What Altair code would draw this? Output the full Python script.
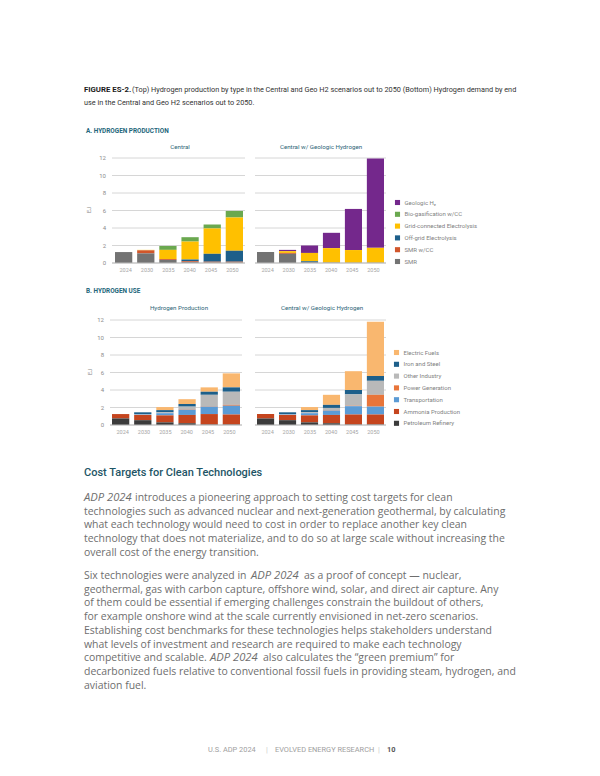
import altair as alt
import pandas as pd

# ---------------- data ----------------
years = ["2024", "2030", "2035", "2040", "2045", "2050"]

prod_types = ["Geologic H₂", "Bio-gasification w/CC", "Grid-connected Electrolysis",
              "Off-grid Electrolysis", "SMR w/CC", "SMR"]
prod_colors = ["#74288c", "#6aa84f", "#ffc000", "#1d5f8a", "#d1562b", "#737373"]

# Central scenario (EJ)
central_smr = [1.25, 1.10, 0.35, 0.10, 0.05, 0.05]
central_smr_cc = [0.00, 0.35, 0.10, 0.10, 0.10, 0.10]
central_offgrid = [0.00, 0.00, 0.00, 0.20, 0.90, 1.25]
central_grid = [0.00, 0.05, 1.05, 2.05, 2.90, 3.80]
central_bio = [0.00, 0.00, 0.45, 0.50, 0.45, 0.75]
central_geologic = [0.00, 0.00, 0.00, 0.00, 0.00, 0.00]

# Central w/ Geologic Hydrogen (EJ)
geo_smr = [1.25, 1.05, 0.10, 0.05, 0.03, 0.03]
geo_smr_cc = [0.00, 0.10, 0.00, 0.00, 0.00, 0.00]
geo_offgrid = [0.00, 0.00, 0.10, 0.00, 0.00, 0.00]
geo_grid = [0.00, 0.20, 0.95, 1.65, 1.45, 1.70]
geo_bio = [0.00, 0.00, 0.00, 0.00, 0.00, 0.00]
geo_geologic = [0.00, 0.15, 0.85, 1.75, 4.70, 10.20]

use_types = ["Electric Fuels", "Iron and Steel", "Other Industry", "Power Generation",
             "Transportation", "Ammonia Production", "Petroleum Refinery"]
use_colors = ["#f9b76f", "#1d5f8a", "#b9b9b9", "#e8753a", "#5b9bd5", "#c5451e", "#3b3b3b"]

# Hydrogen Production (central) use (EJ)
prodc_refinery = [0.75, 0.55, 0.30, 0.20, 0.05, 0.05]
prodc_ammonia = [0.50, 0.60, 0.80, 0.95, 1.20, 1.15]
prodc_transport = [0.00, 0.05, 0.25, 0.60, 0.85, 1.00]
prodc_power = [0.00, 0.00, 0.00, 0.05, 0.05, 0.10]
prodc_other = [0.00, 0.05, 0.10, 0.30, 1.30, 1.50]
prodc_iron = [0.00, 0.20, 0.25, 0.30, 0.35, 0.50]
prodc_efuels = [0.00, 0.00, 0.35, 0.55, 0.50, 1.60]

# Central w/ Geologic Hydrogen use (EJ)
geou_refinery = [0.75, 0.55, 0.30, 0.20, 0.05, 0.05]
geou_ammonia = [0.50, 0.60, 0.80, 0.95, 1.15, 1.15]
geou_transport = [0.00, 0.05, 0.25, 0.50, 0.95, 0.90]
geou_power = [0.00, 0.00, 0.00, 0.05, 0.05, 1.35]
geou_other = [0.00, 0.05, 0.10, 0.25, 1.30, 1.60]
geou_iron = [0.00, 0.20, 0.25, 0.35, 0.50, 0.55]
geou_efuels = [0.00, 0.00, 0.35, 1.15, 2.15, 6.20]

y_ticks = [0, 2, 4, 6, 8, 10, 12]

caption_bold = "FIGURE ES-2."
caption_1 = "(Top) Hydrogen production by type in the Central and Geo H2 scenarios out to 2050 (Bottom) Hydrogen demand by end"
caption_2 = "use in the Central and Geo H2 scenarios out to 2050."
section_a = "A. HYDROGEN PRODUCTION"
section_b = "B. HYDROGEN USE"
panel_titles = ["Central", "Central w/ Geologic Hydrogen", "Hydrogen Production", "Central w/ Geologic Hydrogen"]
unit_label = "EJ"
heading = "Cost Targets for Clean Technologies"
italic_seg = "ADP 2024"
body_lines = [
    ["", "introduces a pioneering approach to setting cost targets for clean"],
    ["technologies such as advanced nuclear and next-generation geothermal, by calculating"],
    ["what each technology would need to cost in order to replace another key clean"],
    ["technology that does not materialize, and to do so at large scale without increasing the"],
    ["overall cost of the energy transition."],
    ["Six technologies were analyzed in", "as a proof of concept — nuclear,"],
    ["geothermal, gas with carbon capture, offshore wind, solar, and direct air capture. Any"],
    ["of them could be essential if emerging challenges constrain the buildout of others,"],
    ["for example onshore wind at the scale currently envisioned in net-zero scenarios."],
    ["Establishing cost benchmarks for these technologies helps stakeholders understand"],
    ["what levels of investment and research are required to make each technology"],
    ["competitive and scalable.", "also calculates the “green premium” for"],
    ["decarbonized fuels relative to conventional fossil fuels in providing steam, hydrogen, and"],
    ["aviation fuel."],
]
footer_parts = ["U.S. ADP 2024", "|", "EVOLVED ENERGY RESEARCH", "|", "10"]

# ---------------- layout (page pixels) ----------------
M = 8
def P(v):
    return v - M

NARROW = "Roboto"
BODY = "Open Sans"
TEAL = "#23667a"


def long_table(series, types):
    rows = []
    n = len(types)
    for t, vals in zip(types, series):
        for yr, v in zip(years, vals):
            rows.append({"year": yr, "type": t, "value": v, "ord": n - types.index(t)})
    return pd.DataFrame(rows)


prod_central_df = long_table([central_geologic, central_bio, central_grid, central_offgrid,
                              central_smr_cc, central_smr], prod_types)
prod_geo_df = long_table([geo_geologic, geo_bio, geo_grid, geo_offgrid, geo_smr_cc, geo_smr], prod_types)
use_central_df = long_table([prodc_efuels, prodc_iron, prodc_other, prodc_power, prodc_transport,
                             prodc_ammonia, prodc_refinery], use_types)
use_geo_df = long_table([geou_efuels, geou_iron, geou_other, geou_power, geou_transport,
                         geou_ammonia, geou_refinery], use_types)


def panel(df, types, colors, bar_x, grid_x, y_rng, xlab_y, legend=None, ylab_x=None):
    xs = alt.Scale(domain=years, range=[P(bar_x[0]), P(bar_x[1])], paddingInner=0.22, paddingOuter=0)
    ys = alt.Scale(domain=[0, 12], range=[P(y_rng[0]), P(y_rng[1])], nice=False, zero=True)
    grid_df = pd.DataFrame({"v": y_ticks})
    layers = []
    layers.append(
        alt.Chart(grid_df).mark_rule(color="#d6d6d6", strokeWidth=1).encode(
            y=alt.Y("v:Q", scale=ys, axis=None),
            x=alt.value(P(grid_x[0])), x2=alt.value(P(grid_x[1])),
        )
    )
    col = alt.Color("type:N", scale=alt.Scale(domain=types, range=colors),
                    legend=legend if legend is not None else None)
    layers.append(
        alt.Chart(df).mark_bar().encode(
            x=alt.X("year:N", scale=xs, axis=None),
            y=alt.Y("value:Q", scale=ys, axis=None, stack="zero"),
            color=col,
            order=alt.Order("ord:Q", sort="ascending"),
        )
    )
    layers.append(
        alt.Chart(pd.DataFrame({"v": [0]})).mark_rule(color="#bdbdbd", strokeWidth=1).encode(
            y=alt.Y("v:Q", scale=ys, axis=None),
            x=alt.value(P(grid_x[0])), x2=alt.value(P(grid_x[1])),
        )
    )
    layers.append(
        alt.Chart(pd.DataFrame({"year": years})).mark_text(
            font=NARROW, fontSize=5.5, color="#a6a6a6", baseline="middle"
        ).encode(
            x=alt.X("year:N", scale=xs, axis=None),
            y=alt.value(P(xlab_y)),
            text="year:N",
        )
    )
    if ylab_x is not None:
        layers.append(
            alt.Chart(grid_df).mark_text(
                font=NARROW, fontSize=6, color="#8c8c8c", align="right", baseline="middle"
            ).encode(
                y=alt.Y("v:Q", scale=ys, axis=None),
                x=alt.value(P(ylab_x)),
                text="v:Q",
            )
        )
    return layers


def legend_at(x, y):
    return alt.Legend(orient="none", legendX=P(x), legendY=P(y), title=None,
                      symbolType="square", symbolSize=26, symbolStrokeWidth=0,
                      labelFont=NARROW, labelFontSize=6, labelColor="#7f7f7f",
                      rowPadding=5.8, labelOffset=4, padding=0)


layers = []
layers += panel(prod_central_df, prod_types, prod_colors, (115, 243), (112, 245), (263, 158), 270,
                ylab_x=106)
layers += panel(prod_geo_df, prod_types, prod_colors, (257, 384), (255, 386), (263, 158), 270,
                legend=legend_at(394.5, 199.5))
layers += panel(use_central_df, use_types, use_colors, (112, 240), (110, 242), (425, 320), 432,
                ylab_x=104)
layers += panel(use_geo_df, use_types, use_colors, (257, 384), (255, 386), (425, 320), 432,
                legend=legend_at(393.5, 349.5))


def text_layer(rows, **style):
    df = pd.DataFrame(rows, columns=["x", "y", "t"])
    df["x"] = df["x"] - M
    df["y"] = df["y"] - M
    base = dict(baseline="middle")
    base.update(style)
    return alt.Chart(df).mark_text(**base).encode(
        x=alt.X("x:Q", scale=None), y=alt.Y("y:Q", scale=None), text="t:N"
    )


# caption
layers.append(text_layer([(84, 90, caption_bold)], font=NARROW, fontSize=7.8, fontWeight="bold",
                         color="#1a1a1a", align="left"))
layers.append(text_layer([(132, 90, caption_1), (84, 103, caption_2)], font=NARROW, fontSize=7.3,
                         color="#333333", align="left"))
# section labels
layers.append(text_layer([(86, 131, section_a), (86, 291, section_b)], font=NARROW, fontSize=6.4,
                         fontWeight="bold", color=TEAL, align="left"))
# panel titles
layers.append(text_layer([(180, 147, panel_titles[0]), (321, 147, panel_titles[1]),
                          (179, 308, panel_titles[2]), (322, 308, panel_titles[3])],
                         font=NARROW, fontSize=6.2, color="#2d6678", align="center"))
# unit labels
layers.append(text_layer([(89, 210, unit_label), (90, 372, unit_label)], font=NARROW, fontSize=6,
                         color="#8c8c8c", align="center", angle=270))
# heading
layers.append(text_layer([(84, 473, heading)], font=NARROW, fontSize=11, fontWeight=500,
                         color="#1e5566", align="left"))

# body text
line_y = [498, 511.7, 525.4, 539.1, 552.8, 576, 589.7, 603.4, 617.1, 630.8, 644.5, 658.2, 671.9, 685.6]
italic_x = {0: 84, 5: 251, 11: 210}
after_x = {0: 135, 5: 304, 11: 263}
normal_rows, italic_rows = [], []
for i, parts in enumerate(body_lines):
    if len(parts) == 1:
        normal_rows.append((84, line_y[i], parts[0]))
    else:
        if parts[0]:
            normal_rows.append((84, line_y[i], parts[0]))
        italic_rows.append((italic_x[i], line_y[i], italic_seg))
        normal_rows.append((after_x[i], line_y[i], parts[1]))
layers.append(text_layer(normal_rows, font=BODY, fontSize=10.45, color="#6e6e6e", align="left"))
layers.append(text_layer(italic_rows, font=BODY, fontSize=11.2, color="#6e6e6e", align="left",
                         fontStyle="italic"))

# footer
layers.append(text_layer([(208, 750, footer_parts[0]), (275, 750, footer_parts[2])], font=NARROW,
                         fontSize=7.4, color="#a0a0a0", align="left"))
layers.append(text_layer([(267, 750, footer_parts[1]), (379, 750, footer_parts[3])], font=NARROW,
                         fontSize=7.4, color="#c8c8c8", align="center"))
layers.append(text_layer([(387, 750, footer_parts[4])], font=NARROW, fontSize=7.4, fontWeight="bold",
                         color="#555555", align="left"))

chart = alt.layer(*layers).resolve_scale(
    x="independent", y="independent", color="independent"
).properties(
    width=584, height=760, padding=0,
    autosize=alt.AutoSizeParams(type="none"),
    background="white",
).configure_view(stroke=None)

chart.save("out.html", embed_options={"renderer": "svg", "actions": False})
